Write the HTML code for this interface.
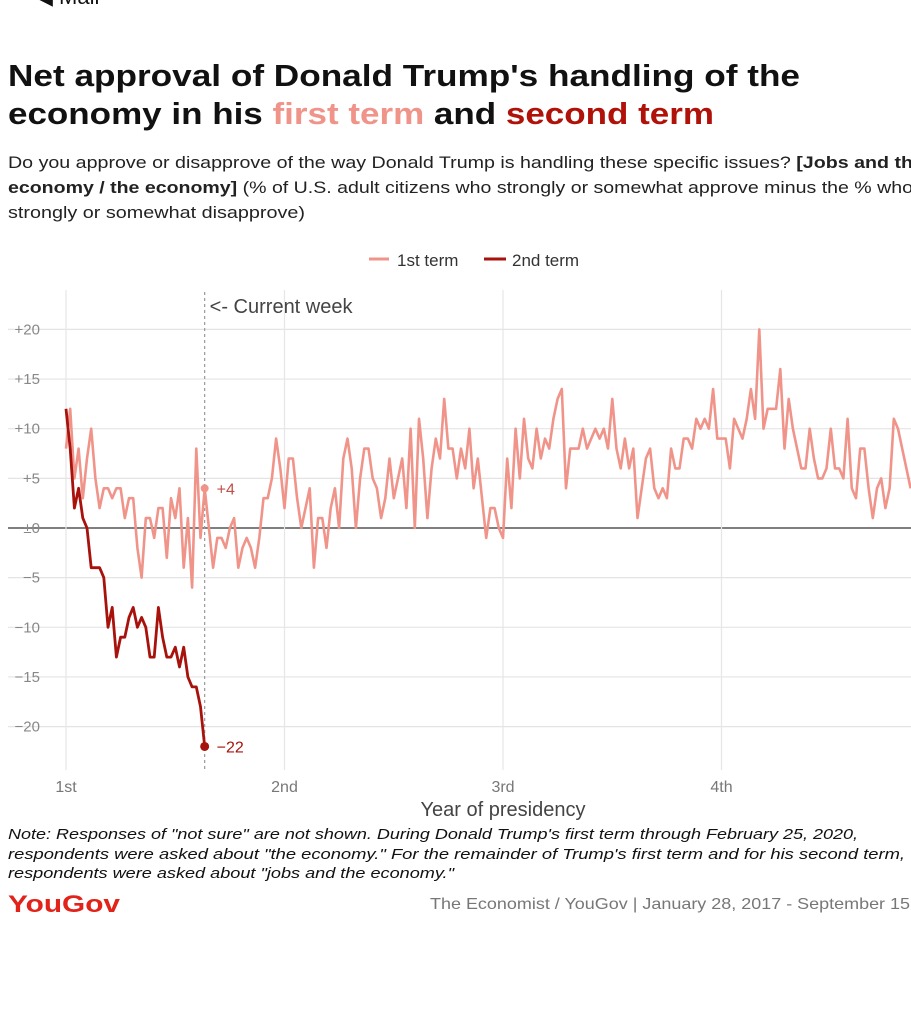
<!DOCTYPE html>
<html><head><meta charset="utf-8">
<style>
html,body{margin:0;padding:0;background:#fff;width:911px;height:1034px;overflow:hidden}
svg{display:block;font-family:"Liberation Sans",sans-serif}
</style></head>
<body>
<svg id="chart" width="911" height="1034" viewBox="0 0 911 1034" xmlns="http://www.w3.org/2000/svg">
<text x="36" y="4" font-size="22" fill="#111">◀ Mail</text>
<g font-weight="bold" font-size="31" fill="#111">
<text x="8" y="86" textLength="792" lengthAdjust="spacingAndGlyphs">Net approval of Donald Trump's handling of the</text>
<text x="8" y="124" textLength="706" lengthAdjust="spacingAndGlyphs">economy in his <tspan fill="#f0948a">first term</tspan> and <tspan fill="#b0120a">second term</tspan></text>
</g>
<g font-size="17" fill="#222">
<text x="8" y="168" textLength="905" lengthAdjust="spacingAndGlyphs">Do you approve or disapprove of the way Donald Trump is handling these specific issues? <tspan font-weight="bold">[Jobs and th</tspan></text>
<text x="8" y="193" textLength="905" lengthAdjust="spacingAndGlyphs"><tspan font-weight="bold">economy / the economy]</tspan> (% of U.S. adult citizens who strongly or somewhat approve minus the % who</text>
<text x="8" y="218" textLength="297" lengthAdjust="spacingAndGlyphs">strongly or somewhat disapprove)</text>
</g>
<g font-size="17" fill="#333">
<line x1="369" y1="259" x2="389" y2="259" stroke="#f0948a" stroke-width="3"/>
<text x="397" y="266">1st term</text>
<line x1="484" y1="259" x2="506" y2="259" stroke="#a8120c" stroke-width="3"/>
<text x="512" y="266">2nd term</text>
</g>
<g id="grid"></g>
<g id="yticks" font-size="15" fill="#888" text-anchor="end"></g>
<g id="xticks" font-size="16" fill="#777" text-anchor="middle"></g>
<text x="503" y="816" font-size="20" fill="#444" text-anchor="middle">Year of presidency</text>
<g id="marks"></g>
<g font-size="15" font-style="italic" fill="#111">
<text x="8" y="839" textLength="850" lengthAdjust="spacingAndGlyphs">Note: Responses of "not sure" are not shown. During Donald Trump's first term through February 25, 2020,</text>
<text x="8" y="859" textLength="897" lengthAdjust="spacingAndGlyphs">respondents were asked about "the economy." For the remainder of Trump's first term and for his second term,</text>
<text x="8" y="878" textLength="446" lengthAdjust="spacingAndGlyphs">respondents were asked about "jobs and the economy."</text>
</g>
<text x="8" y="912" font-size="24" font-weight="bold" fill="#e2231a" textLength="112" lengthAdjust="spacingAndGlyphs">YouGov</text>
<text x="430" y="909" font-size="16" fill="#777" textLength="485" lengthAdjust="spacingAndGlyphs">The Economist / YouGov | January 28, 2017 - September 15,</text>
</svg>
<script>
const yTicks=[20,15,10,5,0,-5,-10,-15,-20];
const yTickLabels=["+20","+15","+10","+5","±0","−5","−10","−15","−20"];
const xYears=[0,1,2,3];
const xYearLabels=["1st","2nd","3rd","4th"];
const currentWeek=33;
const firstTerm=[8,12,5,8,3,7,10,5,2,4,4,3,4,4,1,3,3,-2,-5,1,1,-1,2,2,-3,3,1,4,-4,1,-6,8,-1,4,0,-4,-1,-1,-2,0,1,-4,-2,-1,-2,-4,-1,3,3,5,9,
6,2,7,7,3,0,2,4,-4,1,1,-2,2,4,0,7,9,6,0,5,8,8,5,4,1,3,7,3,5,7,2,10,0,11,7,1,6,9,7,13,8,8,5,8,6,10,4,7,3,-1,2,2,0,-1,7,2,10,5,11,7,6,10,7,9,8,11,13,14,4,8,8,8,10,8,9,10,9,
10,8,13,8,6,9,6,8,1,4,7,8,4,3,4,3,8,6,6,9,9,8,11,10,11,10,14,9,9,9,6,11,10,9,11,14,11,20,10,12,12,12,16,8,13,10,8,6,6,10,7,5,5,6,10,6,6,5,11,4,3,8,8,4,1,4,5,2,4,11,10,8,6,4];
const secondTerm=[12,8,2,4,1,0,-4,-4,-4,-5,-10,-8,-13,-11,-11,-9,-8,-10,-9,-10,-13,-13,-8,-11,-13,-13,-12,-14,-12,-15,-16,-16,-18,-22];

const NS="http://www.w3.org/2000/svg";
const X0=66,YEARW=218.5,WPY=52,Y0=528,PU=9.93;
const xs=w=>X0+w*YEARW/WPY;
const ys=v=>Y0-v*PU;
function mk(tag,attrs,parent){const e=document.createElementNS(NS,tag);for(const k in attrs)e.setAttribute(k,attrs[k]);parent.appendChild(e);return e;}
const grid=document.getElementById('grid'),yt=document.getElementById('yticks'),xt=document.getElementById('xticks'),marks=document.getElementById('marks');
yTicks.forEach((v,i)=>{
  const l=mk('line',{x1:8,x2:911,y1:ys(v),y2:ys(v),stroke:v===0?'#555':'#e4e4e4','stroke-width':v===0?1.5:1.2},grid);
  
  
  const t=mk('text',{x:40,y:ys(v)+5},yt);t.textContent=yTickLabels[i];
  
  
});
xYears.forEach((yr,i)=>{
  const x=xs(yr*WPY);
  const l=mk('line',{x1:x,x2:x,y1:290,y2:770,stroke:'#e6e6e6','stroke-width':1.2},grid);
  
  
  const t=mk('text',{x:x,y:792},xt);t.textContent=xYearLabels[i];
  
  
});
const cx=xs(currentWeek);
const cl=mk('line',{x1:cx,x2:cx,y1:292,y2:770,stroke:'#999','stroke-width':1.2,'stroke-dasharray':'3,3'},marks);


const ct=mk('text',{x:cx+5,y:313,'font-size':20,fill:'#444'},marks);ct.textContent='<- Current week';


function path(arr,color,w){
  return arr.map((v,i)=>(i?'L':'M')+xs(i).toFixed(1)+','+ys(v).toFixed(1)).join('');
}
const p1=mk('path',{d:path(firstTerm),fill:'none',stroke:'#f0948a','stroke-width':2.6,'stroke-linejoin':'round'},marks);


const p2=mk('path',{d:path(secondTerm),fill:'none',stroke:'#a8120c','stroke-width':2.8,'stroke-linejoin':'round'},marks);


const last=secondTerm.length-1;
const d1=mk('circle',{cx:xs(currentWeek),cy:ys(firstTerm[currentWeek]),r:4,fill:'#f0948a'},marks);


const l1=mk('text',{x:xs(currentWeek)+12,y:ys(firstTerm[currentWeek])+6,'font-size':16,fill:'#c0504a'},marks);
l1.textContent=(firstTerm[currentWeek]>=0?'+':'−')+Math.abs(firstTerm[currentWeek]);


const d2=mk('circle',{cx:xs(last),cy:ys(secondTerm[last]),r:4.5,fill:'#a8120c'},marks);


const l2=mk('text',{x:xs(last)+12,y:ys(secondTerm[last])+6,'font-size':16,fill:'#a8120c'},marks);
l2.textContent=(secondTerm[last]>=0?'+':'−')+Math.abs(secondTerm[last]);


</script>
</body></html>
